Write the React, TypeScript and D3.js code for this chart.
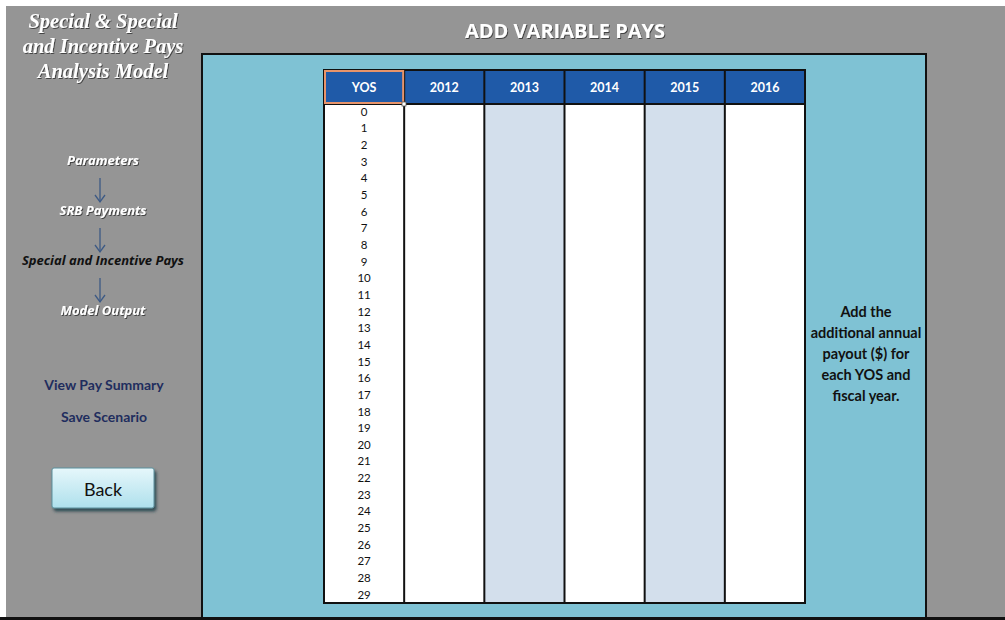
import * as d3 from "d3";
import { useEffect, useRef } from "react";

const years = ["2012", "2013", "2014", "2015", "2016"];
const yosLabels = [
  "0", "1", "2", "3", "4", "5", "6", "7", "8", "9",
  "10", "11", "12", "13", "14", "15", "16", "17", "18", "19",
  "20", "21", "22", "23", "24", "25", "26", "27", "28", "29",
];
const titleLines = ["Special & Special", "and Incentive Pays", "Analysis Model"];
const navSteps = ["Parameters", "SRB Payments", "Special and Incentive Pays", "Model Output"];
const currentStep = "Special and Incentive Pays";
const links = ["View Pay Summary", "Save Scenario"];
const noteLines = ["Add the", "additional annual", "payout ($) for", "each YOS and", "fiscal year."];

const FONT = "Lato, 'Open Sans', sans-serif";

export default function App() {
  const svgRef = useRef<SVGSVGElement | null>(null);

  useEffect(() => {
    const svg = d3.select(svgRef.current);
    const width = 1005;
    const height = 620;
    svg.selectAll("*").remove();
    svg.attr("width", width).attr("height", height);

    const defs = svg.append("defs");
    const shadow = defs.append("filter").attr("id", "txtShadow").attr("x", "-10%").attr("y", "-10%").attr("width", "130%").attr("height", "140%");
    shadow.append("feDropShadow").attr("dx", 1).attr("dy", 1).attr("stdDeviation", 0.6).attr("flood-color", "#333").attr("flood-opacity", 0.8);
    const btnGrad = defs.append("linearGradient").attr("id", "btnGrad").attr("x1", 0).attr("y1", 0).attr("x2", 0).attr("y2", 1);
    btnGrad.append("stop").attr("offset", "0%").attr("stop-color", "#e6f7fb");
    btnGrad.append("stop").attr("offset", "100%").attr("stop-color", "#aee0ec");
    const btnShadow = defs.append("filter").attr("id", "btnShadow").attr("x", "-20%").attr("y", "-20%").attr("width", "150%").attr("height", "160%");
    btnShadow.append("feDropShadow").attr("dx", 2).attr("dy", 3).attr("stdDeviation", 1.5).attr("flood-color", "#1e3a44").attr("flood-opacity", 0.8);

    // background
    svg.append("rect").attr("width", width).attr("height", height).attr("fill", "#ffffff");
    svg.append("rect").attr("x", 6).attr("y", 6).attr("width", width - 6).attr("height", height - 6).attr("fill", "#959595");

    // teal panel
    svg.append("rect").attr("x", 202).attr("y", 54).attr("width", 724).attr("height", 566)
      .attr("fill", "#7fc2d4").attr("stroke", "#111").attr("stroke-width", 2);
    svg.append("rect").attr("x", 0).attr("y", 617).attr("width", width).attr("height", 3).attr("fill", "#111");

    // heading
    svg.append("text").attr("x", 565).attr("y", 38).attr("text-anchor", "middle")
      .attr("font-family", "'Open Sans', sans-serif").attr("font-weight", "bold").attr("font-size", 20)
      .attr("fill", "#fff").attr("filter", "url(#txtShadow)").text("ADD VARIABLE PAYS");

    // model title
    svg.selectAll(".title").data(titleLines).enter().append("text")
      .attr("x", 103).attr("y", (_d, i) => 28 + i * 25).attr("text-anchor", "middle")
      .attr("font-family", "'Liberation Serif', serif").attr("font-style", "italic")
      .attr("font-weight", "bold").attr("font-size", 20.5).attr("fill", "#fff")
      .attr("filter", "url(#txtShadow)").text((d) => d);

    // workflow steps
    const stepY = d3.scalePoint<string>().domain(navSteps).range([165, 315]);
    svg.selectAll(".step").data(navSteps).enter().append("text")
      .attr("x", 103).attr("y", (d) => stepY(d)!).attr("text-anchor", "middle")
      .attr("font-family", "'Open Sans', sans-serif").attr("font-style", "italic").attr("font-weight", "bold")
      .attr("font-size", 13)
      .attr("fill", (d) => (d === currentStep ? "#111" : "#fff"))
      .attr("filter", (d) => (d === currentStep ? null : "url(#txtShadow)"))
      .text((d) => d);
    const arrows = svg.selectAll(".arrow").data(navSteps.slice(1)).enter().append("g").attr("class", "arrow")
      .attr("transform", (d) => `translate(100,${stepY(d)! - 37})`);
    arrows.append("line").attr("x1", 0).attr("y1", 0).attr("x2", 0).attr("y2", 24).attr("stroke", "#3d5a85").attr("stroke-width", 1.3);
    arrows.append("path").attr("d", "M-5,17 L0,24 L5,17").attr("fill", "none").attr("stroke", "#3d5a85").attr("stroke-width", 1.3);

    // links
    svg.selectAll(".link").data(links).enter().append("text")
      .attr("x", 104).attr("y", (_d, i) => 390 + i * 32).attr("text-anchor", "middle")
      .attr("font-family", FONT).attr("font-weight", "bold").attr("font-size", 14)
      .attr("fill", "#1f2d5e").text((d) => d);

    // back button
    svg.append("rect").attr("x", 52).attr("y", 468).attr("width", 102).attr("height", 40).attr("rx", 2)
      .attr("fill", "url(#btnGrad)").attr("stroke", "#5a8f9c").attr("stroke-width", 1).attr("filter", "url(#btnShadow)");
    svg.append("text").attr("x", 103).attr("y", 496).attr("text-anchor", "middle")
      .attr("font-family", FONT).attr("font-size", 18).attr("fill", "#111").text("Back");

    // note on the right
    svg.selectAll(".note").data(noteLines).enter().append("text")
      .attr("x", 866).attr("y", (_d, i) => 317 + i * 21).attr("text-anchor", "middle")
      .attr("font-family", FONT).attr("font-weight", "bold").attr("font-size", 14.5)
      .attr("fill", "#111").text((d) => d);

    // table
    const cols = ["YOS", ...years];
    const x = d3.scaleBand<string>().domain(cols).range([324, 805]);
    const y = d3.scaleBand<string>().domain(yosLabels).range([103.5, 603]);
    const headTop = 70;

    svg.selectAll(".colbg").data(cols).enter().append("rect")
      .attr("x", (d) => x(d)!).attr("y", 104).attr("width", x.bandwidth()).attr("height", 499)
      .attr("fill", (_d, i) => (i === 2 || i === 4 ? "#d3dfec" : "#ffffff"));

    svg.selectAll(".head").data(cols).enter().append("rect")
      .attr("x", (d) => x(d)!).attr("y", headTop).attr("width", x.bandwidth()).attr("height", 104 - headTop)
      .attr("fill", "#1f5aa8");
    svg.selectAll(".headtxt").data(cols).enter().append("text")
      .attr("x", (d) => x(d)! + x.bandwidth() / 2).attr("y", 92).attr("text-anchor", "middle")
      .attr("font-family", FONT).attr("font-weight", "bold").attr("font-size", 12.5)
      .attr("fill", "#fff").text((d) => d);

    // grid lines
    svg.selectAll(".vline").data(cols.slice(1)).enter().append("line")
      .attr("x1", (d) => x(d)!).attr("x2", (d) => x(d)!).attr("y1", headTop).attr("y2", 603)
      .attr("stroke", "#111").attr("stroke-width", 2);
    svg.append("line").attr("x1", 324).attr("x2", 805).attr("y1", 104).attr("y2", 104).attr("stroke", "#111").attr("stroke-width", 2);
    svg.append("rect").attr("x", 324).attr("y", headTop).attr("width", 481).attr("height", 603 - headTop)
      .attr("fill", "none").attr("stroke", "#111").attr("stroke-width", 2);

    // selected YOS cell
    svg.append("rect").attr("x", 325).attr("y", headTop + 1).attr("width", x.bandwidth() - 2).attr("height", 104 - headTop - 2)
      .attr("fill", "none").attr("stroke", "#e8946a").attr("stroke-width", 2);
    svg.append("rect").attr("x", 402).attr("y", 102).attr("width", 4).attr("height", 4)
      .attr("fill", "#fff").attr("stroke", "#555").attr("stroke-width", 0.8);

    // YOS labels
    svg.selectAll(".yos").data(yosLabels).enter().append("text")
      .attr("x", x("YOS")! + x.bandwidth() / 2).attr("y", (d) => y(d)! + y.bandwidth() / 2 + 4)
      .attr("text-anchor", "middle").attr("font-family", FONT).attr("font-size", 11.5)
      .attr("fill", "#111").text((d) => d);
  }, []);

  return <svg ref={svgRef} style={{ position: "absolute", left: 0, top: 0, display: "block" }}></svg>;
}
